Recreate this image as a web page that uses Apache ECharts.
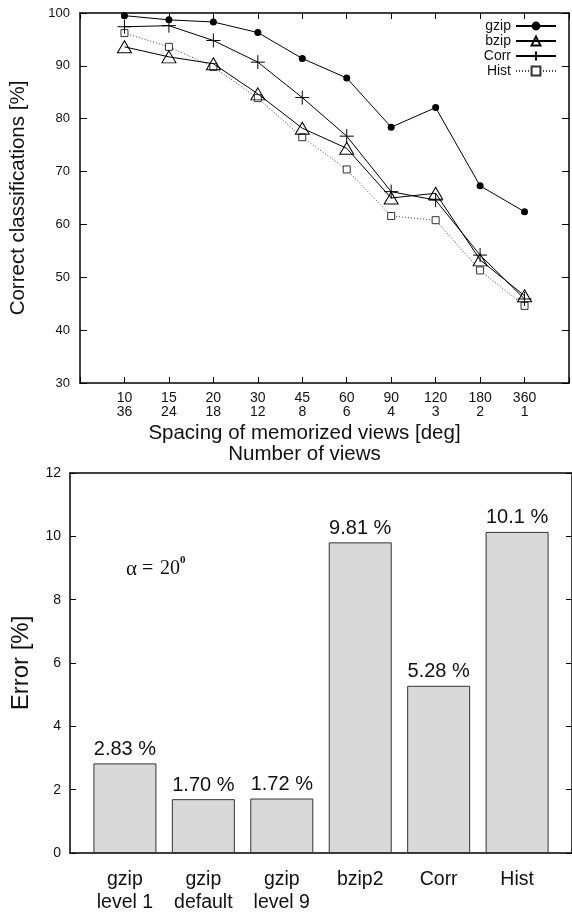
<!DOCTYPE html>
<html>
<head>
<meta charset="utf-8">
<script src="https://cdn.jsdelivr.net/npm/echarts@6/dist/echarts.min.js"></script>
<style>
  html, body { margin: 0; padding: 0; background: #fff; }
  #main { width: 572px; height: 914px; }
</style>
</head>
<body>
<div id="main"></div>
<script>
// top chart: spacing / number of views
var spacing = [10, 15, 20, 30, 45, 60, 90, 120, 180, 360]
var views = [36, 24, 18, 12, 8, 6, 4, 3, 2, 1]
var gzip = [99.5, 98.7, 98.3, 96.3, 91.4, 87.7, 78.4, 82.1, 67.3, 62.4]
var bzip = [93.6, 91.7, 90.4, 84.7, 78.2, 74.4, 65.0, 65.9, 53.3, 46.5]
var corr = [97.4, 97.6, 94.8, 90.7, 84.0, 76.7, 66.2, 64.6, 54.2, 45.9]
var hist = [96.2, 93.6, 89.8, 83.9, 76.5, 70.4, 61.6, 60.8, 51.3, 44.6]

// bottom chart: error
var methods = ['gzip\nlevel 1', 'gzip\ndefault', 'gzip\nlevel 9', 'bzip2', 'Corr', 'Hist']
var errors = [2.83, 1.70, 1.72, 9.81, 5.28, 10.14]
var errorLabels = ['2.83 %', '1.70 %', '1.72 %', '9.81 %', '5.28 %', '10.1 %']

var FONT = "'Liberation Sans', Arial, sans-serif"
var SERIF = "'Liberation Serif', serif"

function pts(arr) {
  return arr.map(function (v, i) { return [i + 1, v] })
}

var chart = echarts.init(document.getElementById('main'))

var lineBase = {
  type: 'line',
  xAxisIndex: 0,
  yAxisIndex: 0,
  showSymbol: true,
  animation: false,
}

var frameLine = { show: true, onZero: false, lineStyle: { color: '#000', width: 1.5 } }

var option = {
  backgroundColor: '#fff',
  animation: false,
  textStyle: { fontFamily: FONT, color: '#111' },
  legend: {
    orient: 'vertical',
    align: 'right',
    right: 15,
    top: 19,
    padding: 0,
    itemGap: 1,
    itemWidth: 40,
    itemHeight: 11,
    textStyle: { fontFamily: FONT, fontSize: 14, lineHeight: 14, color: '#111' },
    data: ['gzip', 'bzip', 'Corr', 'Hist'],
  },
  grid: [
    { left: 79, top: 13, right: -2, height: 370 },
    { left: 70, top: 473, right: -4, height: 381 },
  ],
  xAxis: [
    {
      // top chart bottom axis
      gridIndex: 0,
      type: 'value',
      min: 0,
      max: 11,
      interval: 1,
      splitLine: { show: false },
      axisLine: frameLine,
      axisTick: { inside: true, length: 6, lineStyle: { color: '#000' } },
      axisLabel: {
        margin: 8,
        fontSize: 14,
        lineHeight: 14,
        color: '#111',
        fontFamily: FONT,
        formatter: function (v) {
          var i = Math.round(v)
          if (i < 1 || i > 10) return ''
          return spacing[i - 1] + '\n' + views[i - 1]
        },
      },
      name: 'Spacing of memorized views [deg]\nNumber of views',
      nameLocation: 'middle',
      nameGap: 40,
      nameTextStyle: { fontSize: 20.5, lineHeight: 21, color: '#111', fontFamily: FONT, padding: [0, 40, 0, 0] },
    },
    {
      // top chart top frame
      gridIndex: 0,
      type: 'value',
      position: 'top',
      min: 0,
      max: 11,
      interval: 1,
      splitLine: { show: false },
      axisLine: frameLine,
      axisTick: { inside: true, length: 6, lineStyle: { color: '#000' } },
      axisLabel: { show: false },
    },
    {
      // bottom chart
      gridIndex: 1,
      type: 'value',
      min: -0.7,
      max: 5.7,
      splitLine: { show: false },
      axisLine: frameLine,
      axisTick: { show: false },
      axisLabel: {
        customValues: [0, 1, 2, 3, 4, 5],
        margin: 15,
        fontSize: 19.5,
        lineHeight: 23,
        color: '#111',
        fontFamily: FONT,
        formatter: function (v) {
          return methods[Math.round(v)] || ''
        },
      },
    },
    {
      gridIndex: 1,
      type: 'value',
      position: 'top',
      min: -0.7,
      max: 5.7,
      splitLine: { show: false },
      axisLine: frameLine,
      axisTick: { show: false },
      axisLabel: { show: false },
    },
  ],
  yAxis: [
    {
      gridIndex: 0,
      type: 'value',
      min: 30,
      max: 100,
      interval: 10,
      splitLine: { show: false },
      axisLine: frameLine,
      axisTick: { show: true, inside: true, length: 7, lineStyle: { color: '#000' } },
      axisLabel: { margin: 10, fontSize: 13, color: '#111', fontFamily: FONT },
      name: 'Correct classifications [%]',
      nameLocation: 'middle',
      nameGap: 51,
      nameTextStyle: { fontSize: 20.5, color: '#111', fontFamily: FONT },
    },
    {
      gridIndex: 0,
      type: 'value',
      position: 'right',
      min: 30,
      max: 100,
      interval: 10,
      splitLine: { show: false },
      axisLine: frameLine,
      axisTick: { show: true, inside: true, length: 7, lineStyle: { color: '#000' } },
      axisLabel: { show: false },
    },
    {
      gridIndex: 1,
      type: 'value',
      min: 0,
      max: 12,
      interval: 2,
      splitLine: { show: false },
      axisLine: frameLine,
      axisTick: { show: true, inside: true, length: 6, lineStyle: { color: '#000' } },
      axisLabel: { margin: 9, fontSize: 14, color: '#111', fontFamily: FONT },
      name: 'Error [%]',
      nameLocation: 'middle',
      nameGap: 37,
      nameTextStyle: { fontSize: 24, color: '#111', fontFamily: FONT },
    },
    {
      gridIndex: 1,
      type: 'value',
      position: 'right',
      min: 0,
      max: 12,
      interval: 2,
      splitLine: { show: false },
      axisLine: frameLine,
      axisTick: { show: true, inside: true, length: 6, lineStyle: { color: '#000' } },
      axisLabel: { show: false },
    },
  ],
  graphic: [
    { type: 'text', left: 126, top: 559, style: { text: 'α', font: '21px ' + SERIF, fill: '#111' } },
    { type: 'text', left: 142, top: 559, style: { text: '=', font: '20px ' + SERIF, fill: '#111' } },
    { type: 'text', left: 160, top: 559, style: { text: '20', font: '20px ' + SERIF, fill: '#111' } },
    { type: 'text', left: 180, top: 555, style: { text: '0', font: 'bold 11px ' + SERIF, fill: '#111' } },
  ],
  series: [
    Object.assign({}, lineBase, {
      name: 'gzip',
      data: pts(gzip),
      symbol: 'circle',
      symbolSize: 7,
      itemStyle: { color: '#000' },
      lineStyle: { color: '#000', width: 1 },
      z: 5,
    }),
    Object.assign({}, lineBase, {
      name: 'bzip',
      data: pts(bzip),
      symbol: 'triangle',
      symbolSize: [14, 12],
      itemStyle: { color: 'rgba(255,255,255,0)', borderColor: '#000', borderWidth: 1 },
      lineStyle: { color: '#000', width: 1 },
      z: 4,
    }),
    Object.assign({}, lineBase, {
      name: 'Corr',
      data: pts(corr),
      symbol: 'path://M0,7 L14,7 M7,0 L7,14',
      symbolSize: 14,
      itemStyle: { color: 'none', borderColor: '#000', borderWidth: 1 },
      lineStyle: { color: '#000', width: 1 },
      z: 4,
    }),
    Object.assign({}, lineBase, {
      name: 'Hist',
      data: pts(hist),
      symbol: 'rect',
      symbolSize: 7,
      itemStyle: { color: '#fff', borderColor: '#333', borderWidth: 1 },
      lineStyle: { color: '#444', width: 1, type: [1, 2] },
      z: 3,
    }),
    {
      name: 'Error',
      type: 'bar',
      xAxisIndex: 2,
      yAxisIndex: 2,
      barWidth: 63,
      data: errors.map(function (v, i) { return [i, v] }),
      itemStyle: { color: '#d9d9d9', borderColor: '#333', borderWidth: 1 },
      label: {
        show: true,
        position: 'top',
        distance: 4,
        fontSize: 20,
        color: '#111',
        fontFamily: FONT,
        formatter: function (p) { return errorLabels[p.dataIndex] },
      },
      animation: false,
    },
  ],
}

option && chart.setOption(option)
</script>
</body>
</html>
